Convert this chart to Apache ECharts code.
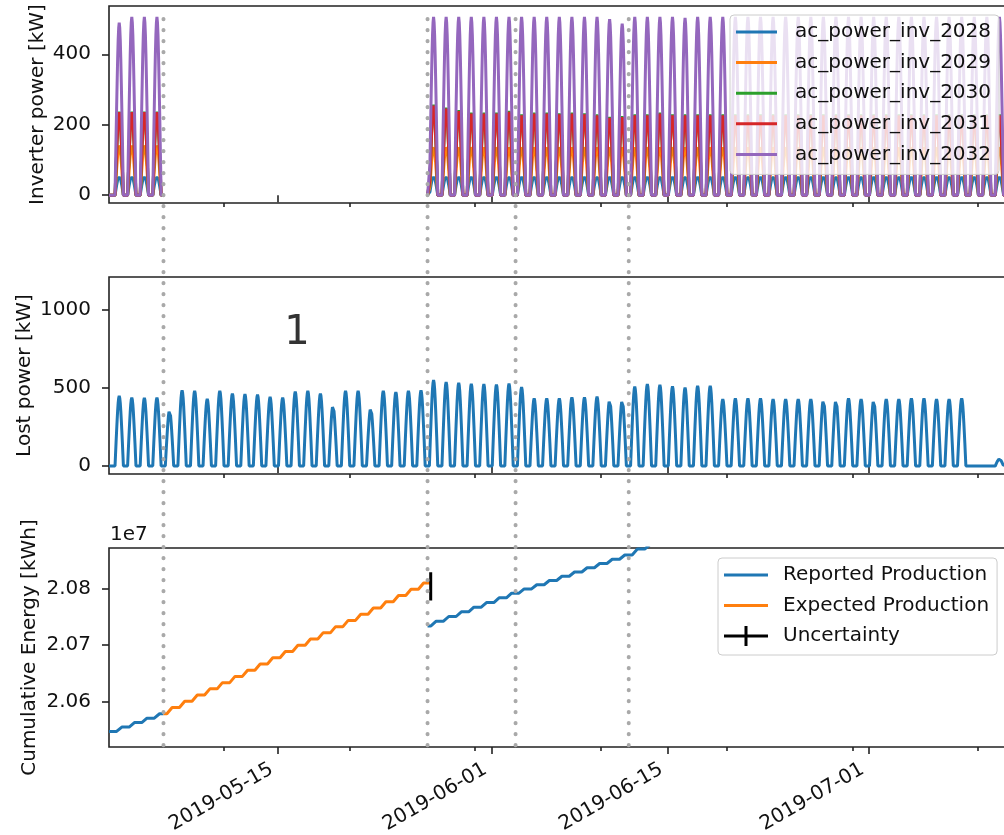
<!DOCTYPE html>
<html>
<head>
<meta charset="utf-8">
<title>Inverter power, lost power and cumulative energy</title>
<script src="https://cdn.jsdelivr.net/npm/echarts@6.0.0/dist/echarts.min.js"></script>
<style>
html,body{margin:0;padding:0;background:#fff;}
#chart{width:1004px;height:835px;}
</style>
</head>
<body>
<div id="chart"></div>
<script>
// ================= DATA =================
const xTickLabels = ['2019-05-15', '2019-06-01', '2019-06-15', '2019-07-01'];
const xMinorTicks = ['2019-05-10 17:00', '2019-05-20 17:00', '2019-05-30 17:00', '2019-06-09 17:00',
                     '2019-06-19 17:00', '2019-06-29 17:00', '2019-07-09 17:00'];
const eventTimes = ['2019-05-05 22:00', '2019-05-26 22:00', '2019-06-02 22:00', '2019-06-11 22:00'];
const eventTopValue = 500;            // event lines start at 500 kW in the top panel
const powerTicks = [0, 200, 400];
const lostTicks = [0, 500, 1000];
const energyTicks = [20600000, 20700000, 20800000];
const annotationText = '1';
const energyOffsetText = '1e7';

const inverterNames = ['ac_power_inv_2028', 'ac_power_inv_2029', 'ac_power_inv_2030', 'ac_power_inv_2031', 'ac_power_inv_2032'];

// daily shape of a sunny day, fraction of the day's peak, hourly from peak-8h to peak+8h
const peakHour = 9.5;
const dayProfile = [0, 0.17, 0.34, 0.5, 0.65, 0.79, 0.9, 0.97, 1, 0.97, 0.9, 0.79, 0.65, 0.5, 0.34, 0.17, 0];
const rampHalfHours = 5;   // half-width of the daily rise of the cumulative energy

// inverter data, period A (daily peaks from 2019-05-02) and period B (daily peaks from 2019-05-27)
const periodA = { start: '2019-05-01 14:00', firstDay: '2019-05-02', end: '2019-05-05 22:00' };
const periodB = { start: '2019-05-26 22:00', firstDay: '2019-05-27', end: '2019-07-11 22:00' };

const inv2028A = [55, 55, 55, 55];
const inv2029A = [145, 145, 145, 145];
const inv2030A = [237, 237, 237, 237];
const inv2031A = [235, 235, 235, 235];
const inv2032A = [490, 506, 506, 506];

const inv2028B = [55, 55, 55, 55, 55,
  55, 55, 55, 55, 55, 55, 55, 55, 55, 55,
  55, 55, 55, 55, 55, 55, 55, 55, 55, 55,
  55, 55, 55, 55, 55, 55, 55, 55, 55, 55,
  55, 55, 55, 55, 55, 55, 55, 55, 55, 55, 55];
const inv2029B = [140, 140, 140, 140, 140,
  140, 140, 140, 140, 140, 140, 140, 140, 140, 140,
  140, 140, 140, 140, 140, 140, 140, 140, 140, 140,
  140, 140, 140, 140, 140, 140, 140, 140, 140, 140,
  140, 140, 140, 140, 140, 140, 140, 140, 140, 140, 140];
const inv2030B = [257, 248, 241, 234, 234,
  234, 239, 229, 234, 234, 232, 234, 232, 229, 222,
  224, 229, 229, 234, 229, 229, 229, 229, 229, 229,
  229, 229, 229, 229, 229, 229, 229, 229, 229, 229,
  229, 229, 229, 229, 229, 229, 229, 229, 229, 229, 229];
const inv2031B = [254, 245, 238, 231, 231,
  231, 236, 226, 231, 231, 229, 231, 229, 226, 219,
  221, 226, 226, 231, 226, 226, 226, 226, 226, 226,
  226, 226, 226, 226, 226, 226, 226, 226, 226, 226,
  226, 226, 226, 226, 226, 226, 226, 226, 226, 226, 226];
const inv2032B = [506, 506, 506, 506, 506,
  506, 506, 506, 506, 506, 506, 506, 506, 506, 500,
  487, 506, 506, 506, 506, 503, 506, 506, 506, 506,
  506, 506, 506, 506, 506, 506, 506, 506, 506, 506,
  506, 506, 506, 506, 506, 506, 506, 506, 506, 506, 506];

// lost power, daily peaks 2019-05-02 .. 2019-07-11
const lostPeriod = { start: '2019-05-01 14:00', firstDay: '2019-05-02', end: '2019-07-11 22:00' };
const lostPeaks = [
  449, 438, 436, 438, 358, 485, 481, 430, 481, 464,   // 05-02 .. 05-11
  460, 457, 442, 438, 476, 481, 464, 389, 481, 481,   // 05-12 .. 05-21
  372, 481, 474, 481, 485, 550, 538, 532, 526, 524,   // 05-22 .. 05-31
  522, 528, 505, 433, 433, 433, 440, 440, 444, 425,   // 06-01 .. 06-10
  423, 508, 525, 520, 510, 503, 514, 514, 429, 433,   // 06-11 .. 06-20
  433, 433, 429, 429, 429, 429, 425, 423, 433, 429,   // 06-21 .. 06-30
  423, 429, 429, 433, 433, 429, 429, 433, 0, 0, 45    // 07-01 .. 07-11
];

// cumulative energy, value at the end of each day
const reportedA = { start: '2019-05-01 14:00', startValue: 20547600, firstDay: '2019-05-02', end: '2019-05-05 22:00',
  dayEnds: [20555300, 20563200, 20571000, 20578800] };
const expectedSeg = { start: '2019-05-05 22:00', startValue: 20578800, firstDay: '2019-05-06', end: '2019-05-27 04:00',
  dayEnds: [20589800, 20600800, 20611800, 20622800, 20633800, 20644800, 20655800, 20666800, 20677800, 20688800,
            20699800, 20710800, 20721800, 20732800, 20743800, 20754800, 20765800, 20776800, 20787800, 20798800, 20810000] };
const reportedB = { start: '2019-05-26 22:00', startValue: 20734100, firstDay: '2019-05-27', end: null,
  dayEnds: [20742400, 20750700, 20758900, 20767200, 20775400, 20783700, 20791900,
            20799400, 20806900, 20814400, 20821900, 20829400, 20836900, 20844400, 20851900, 20859400,
            20870000, 20878000] };
const uncertaintyTime = '2019-05-27 04:00';
const uncertaintyRange = [20778800, 20828900];

// axis ranges
const xRange = ['2019-05-01 14:00', '2019-07-12 12:00'];
const powerRange = [-22, 537];
const lostRange = [-51, 1210];
const energyRange = [20520000, 20871800];

// ================= helpers =================
const HOUR = 3600 * 1000, DAY = 24 * HOUR;
function ts(s) {
  const parts = s.split(' ');
  const [Y, M, D] = parts[0].split('-').map(Number);
  let h = 0, m = 0;
  if (parts[1]) { [h, m] = parts[1].split(':').map(Number); }
  return Date.UTC(Y, M - 1, D, h, m);
}
function fmtDate(v) {
  const d = new Date(v);
  const p = n => String(n).padStart(2, '0');
  return d.getUTCFullYear() + '-' + p(d.getUTCMonth() + 1) + '-' + p(d.getUTCDate());
}
const half = (dayProfile.length - 1) / 2;
function dailyCurve(period, peaks) {
  const pts = [[ts(period.start), 0]];
  const day0 = ts(period.firstDay);
  peaks.forEach((p, i) => {
    const pk = day0 + i * DAY + peakHour * HOUR;
    dayProfile.forEach((f, k) => pts.push([pk + (k - half) * HOUR, p * f]));
  });
  pts.push([ts(period.end), 0]);
  return pts;
}
function stairs(seg) {
  const pts = [[ts(seg.start), seg.startValue]];
  let prev = seg.startValue;
  const day0 = ts(seg.firstDay);
  seg.dayEnds.forEach((v, i) => {
    const pk = day0 + i * DAY + peakHour * HOUR;
    pts.push([pk - rampHalfHours * HOUR, prev], [pk + rampHalfHours * HOUR, v]);
    prev = v;
  });
  if (seg.end) pts.push([ts(seg.end), prev]);
  return pts;
}
const GAP = [[ts('2019-05-15'), null]];

// ================= style =================
const FONT = 'DejaVu Sans';
const TEXT = '#111';
const AX = '#222';
const COLORS = ['#1f77b4', '#ff7f0e', '#2ca02c', '#d62728', '#9467bd'];
const invA = [inv2028A, inv2029A, inv2030A, inv2031A, inv2032A];
const invB = [inv2028B, inv2029B, inv2030B, inv2031B, inv2032B];

const X_MIN = ts(xRange[0]), X_MAX = ts(xRange[1]);
const majorVals = xTickLabels.map(ts);
const minorVals = xMinorTicks.map(ts);

function xAxes(grid, showLabels) {
  return [
    { type: 'value', gridIndex: grid, min: X_MIN, max: X_MAX, position: 'bottom',
      axisLine: { show: false }, splitLine: { show: false },
      axisTick: { show: true, customValues: majorVals, length: 7, lineStyle: { color: AX, width: 1.6 } },
      axisLabel: { show: showLabels, customValues: majorVals, formatter: fmtDate, rotate: 30, margin: 17.5,
                   padding: [0, 7, 0, 0], fontSize: 20, fontFamily: FONT, color: TEXT } },
    { type: 'value', gridIndex: grid, min: X_MIN, max: X_MAX, position: 'bottom',
      axisLine: { show: false }, splitLine: { show: false },
      axisTick: { show: true, customValues: minorVals, length: 4, lineStyle: { color: AX, width: 1.6 } },
      axisLabel: { show: false } }
  ];
}
function yAxis(grid, range, ticks, name, gap, fmt) {
  return { type: 'value', gridIndex: grid, min: range[0], max: range[1],
    name: name, nameLocation: 'middle', nameRotate: 90, nameGap: gap, nameMoveOverlap: false,
    nameTextStyle: { fontSize: 20, fontFamily: FONT, color: TEXT },
    axisLine: { show: false }, splitLine: { show: false },
    axisTick: { show: true, customValues: ticks, length: 7, lineStyle: { color: AX, width: 1.6 } },
    axisLabel: { customValues: ticks, margin: 18, fontSize: 20, fontFamily: FONT, color: TEXT,
                 formatter: fmt || (v => String(v)) } };
}
const gridBase = { left: 109, right: -9.3, show: true, borderColor: AX, borderWidth: 1.6,
                   backgroundColor: 'transparent', containLabel: false, outerBoundsMode: 'none' };

const series = [];
inverterNames.forEach((n, i) => {
  series.push({ name: n, type: 'line', xAxisIndex: 0, yAxisIndex: 0, symbol: 'none', showSymbol: false,
    color: COLORS[i], lineStyle: { width: 3, color: COLORS[i] }, connectNulls: false, silent: true,
    data: dailyCurve(periodA, invA[i]).concat(GAP, dailyCurve(periodB, invB[i])) });
});
series.push({ name: 'Lost power', type: 'line', xAxisIndex: 2, yAxisIndex: 1, symbol: 'none', showSymbol: false,
  color: COLORS[0], lineStyle: { width: 3, color: COLORS[0] }, silent: true,
  data: dailyCurve(lostPeriod, lostPeaks) });
series.push({ name: 'Reported Production', type: 'line', xAxisIndex: 4, yAxisIndex: 2, symbol: 'none', showSymbol: false,
  color: COLORS[0], lineStyle: { width: 3, color: COLORS[0] }, connectNulls: false, silent: true,
  data: stairs(reportedA).concat(GAP, stairs(reportedB)) });
series.push({ name: 'Expected Production', type: 'line', xAxisIndex: 4, yAxisIndex: 2, symbol: 'none', showSymbol: false,
  color: COLORS[1], lineStyle: { width: 3, color: COLORS[1] }, silent: true,
  data: stairs(expectedSeg) });
series.push({ name: 'Uncertainty', type: 'line', xAxisIndex: 4, yAxisIndex: 2, symbol: 'none', showSymbol: false,
  color: '#000', lineStyle: { width: 3, color: '#000' }, silent: true, z: 5,
  data: [[ts(uncertaintyTime), uncertaintyRange[0]], [ts(uncertaintyTime), uncertaintyRange[1]]] });

const LINE_ICON = 'path://M0,0M0,20M0,8.5L44,8.5L44,11.5L0,11.5Z';
const PLUS_ICON = 'path://M0,0M0,20M0,8.5L44,8.5L44,11.5L0,11.5Z M20.5,0L23.5,0L23.5,20L20.5,20Z';
const legendText = { fontSize: 20, fontFamily: FONT, color: TEXT, lineHeight: 20 };

const option = {
  animation: false,
  backgroundColor: '#fff',
  grid: [
    Object.assign({ top: 6, height: 197 }, gridBase),
    Object.assign({ top: 277, height: 197 }, gridBase),
    Object.assign({ top: 548, height: 199 }, gridBase)
  ],
  xAxis: [].concat(xAxes(0, false), xAxes(1, false), xAxes(2, true)),
  yAxis: [
    yAxis(0, powerRange, powerTicks, 'Inverter power [kW]', 61),
    yAxis(1, lostRange, lostTicks, 'Lost power [kW]', 74),
    yAxis(2, energyRange, energyTicks, 'Cumulative Energy [kWh]', 69, v => (v / 1e7).toFixed(2))
  ],
  legend: [
    { orient: 'vertical', left: 730, top: 15, data: inverterNames, icon: 'rect', itemWidth: 41, itemHeight: 3,
      itemGap: 10.6, padding: [7, 8, 10, 6], backgroundColor: 'rgba(255,255,255,0.8)', borderColor: '#cccccc',
      borderWidth: 1, borderRadius: 4, selectedMode: false, symbolKeepAspect: true,
      textStyle: Object.assign({ padding: [0, 0, 0, 13] }, legendText) },
    { orient: 'vertical', left: 718, top: 558,
      data: [{ name: 'Reported Production', icon: LINE_ICON }, { name: 'Expected Production', icon: LINE_ICON },
             { name: 'Uncertainty', icon: PLUS_ICON }],
      itemWidth: 44, itemHeight: 20, itemGap: 10.5, padding: [7, 8, 9, 6], backgroundColor: 'rgba(255,255,255,0.8)',
      borderColor: '#cccccc', borderWidth: 1, borderRadius: 4, selectedMode: false, symbolKeepAspect: true,
      textStyle: Object.assign({ padding: [0, 0, 0, 10] }, legendText) }
  ],
  series: series
};

const chart = echarts.init(document.getElementById('chart'), null, { renderer: 'canvas' });
chart.setOption(option);

// event lines: from the top panel (500 kW) down to the bottom of the energy panel, through the library's scales
const graphics = eventTimes.map(s => {
  const a = chart.convertToPixel({ gridIndex: 0 }, [ts(s), eventTopValue]);
  const b = chart.convertToPixel({ gridIndex: 2 }, [ts(s), energyRange[0]]);
  return { type: 'line', silent: true, z: 100,
    shape: { x1: a[0], y1: a[1], x2: b[0], y2: b[1] },
    style: { stroke: '#a9a9a9', lineWidth: 4, lineDash: [0.1, 10.9], lineCap: 'round' } };
});
graphics.push({ type: 'text', x: 297, y: 334, silent: true, z: 100,
  style: { text: annotationText, fontSize: 40, fontFamily: FONT, fill: '#333', textAlign: 'center', textVerticalAlign: 'middle' } });
graphics.push({ type: 'text', x: 110, y: 535, silent: true, z: 100,
  style: { text: energyOffsetText, fontSize: 20, fontFamily: FONT, fill: TEXT, textAlign: 'left', textVerticalAlign: 'middle' } });
chart.setOption({ graphic: graphics });
</script>
</body>
</html>
